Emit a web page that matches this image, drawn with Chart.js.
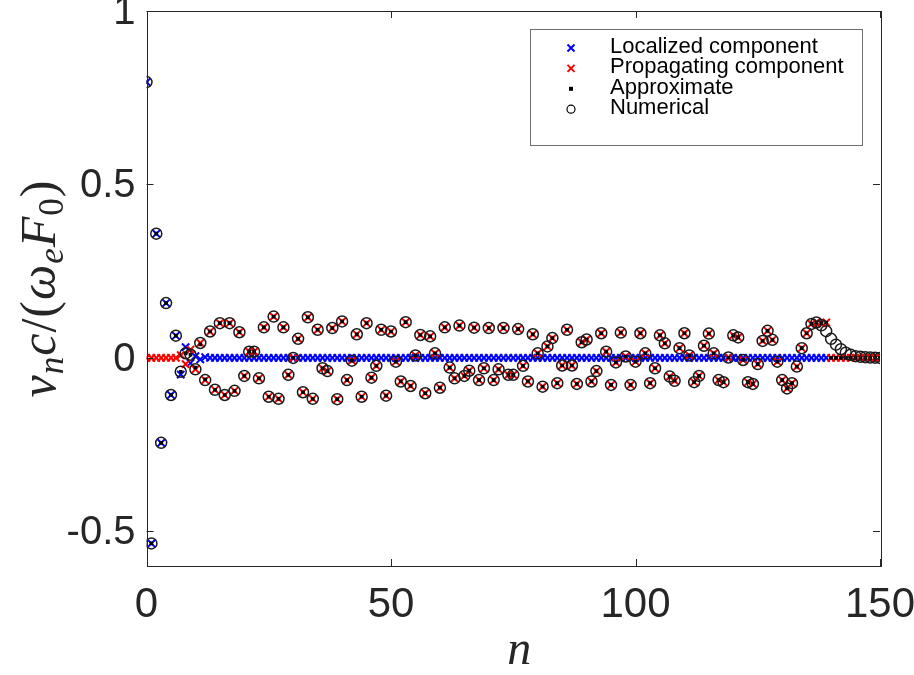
<!DOCTYPE html>
<html>
<head>
<meta charset="utf-8">
<script src="https://cdn.jsdelivr.net/npm/chart.js@4.4.1/dist/chart.umd.min.js"></script>
<style>
  html, body { margin: 0; padding: 0; background: #fff; }
  #wrap { position: relative; width: 914px; height: 675px; }
</style>
</head>
<body>
<div id="wrap"><canvas id="myChart"></canvas></div>
<script>
// values indexed by n (first entry is n = 0)
const localized = [
  0.795, -0.535, 0.358, -0.245, 0.158, -0.107, 0.064, -0.048, 0.031, -0.015,
  0.005, -0.004, 0.002, 0, 0, 0, 0, 0, 0, 0,
  0, 0, 0, 0, 0, 0, 0, 0, 0, 0,  0, 0, 0, 0, 0, 0, 0, 0, 0, 0,
  0, 0, 0, 0, 0, 0, 0, 0, 0, 0,  0, 0, 0, 0, 0, 0, 0, 0, 0, 0,
  0, 0, 0, 0, 0, 0, 0, 0, 0, 0,  0, 0, 0, 0, 0, 0, 0, 0, 0, 0,
  0, 0, 0, 0, 0, 0, 0, 0, 0, 0,  0, 0, 0, 0, 0, 0, 0, 0, 0, 0,
  0, 0, 0, 0, 0, 0, 0, 0, 0, 0,  0, 0, 0, 0, 0, 0, 0, 0, 0, 0,
  0, 0, 0, 0, 0, 0, 0, 0, 0, 0,  0, 0, 0, 0, 0, 0, 0, 0, 0, 0
];

const propagating = [
  0, 0, 0, 0, 0, 0, 0, 0.008, -0.018, 0.024,
  -0.033, 0.043, -0.064, 0.076, -0.092, 0.100, -0.107, 0.100, -0.095, 0.074,
  -0.052, 0.018, 0.018, -0.059, 0.088, -0.112, 0.119, -0.118, 0.088, -0.049,
  0.000, 0.055, -0.099, 0.117, -0.118, 0.081, -0.030, -0.038, 0.086, -0.119,
  0.105, -0.064, -0.008, 0.068, -0.112, 0.100, -0.057, -0.023, 0.081, -0.109,
  0.076, -0.011, -0.068, 0.103, -0.081, 0.007, 0.066, -0.102, 0.062, 0.013,
  -0.086, 0.088, -0.028, -0.059, 0.093, -0.052, -0.037, 0.087, -0.064, -0.030,
  0.086, -0.064, -0.033, 0.086, -0.049, -0.049, 0.083, -0.023, -0.068, 0.068,
  0.013, -0.083, 0.033, 0.057, -0.073, -0.022, 0.081, -0.022, -0.075, 0.045,
  0.053, -0.068, -0.038, 0.071, 0.018, -0.078, -0.013, 0.073, 0.004, -0.078,
  -0.011, 0.071, 0.013, -0.073, -0.030, 0.065, 0.042, -0.054, -0.066, 0.028,
  0.071, 0.007, -0.070, -0.052, 0.035, 0.070, 0.013, -0.064, -0.070, 0.001,
  0.065, 0.059, -0.006, -0.070, -0.075, -0.018, 0.049, 0.078, 0.052, -0.011,
  -0.064, -0.088, -0.073, -0.025, 0.028, 0.071, 0.098, 0.102, 0.100, 0.102,
  0, 0, 0, 0, 0, 0, 0, 0, 0, 0, 0
];

const approximate = [
  0.795, -0.535, 0.358, -0.245, 0.158, -0.107, 0.064, -0.040, 0.013, 0.009,
  -0.028, 0.039, -0.062, 0.076, -0.092, 0.100, -0.107, 0.100, -0.095, 0.074,
  -0.052, 0.018, 0.018, -0.059, 0.088, -0.112, 0.119, -0.118, 0.088, -0.049,
  0.000, 0.055, -0.099, 0.117, -0.118, 0.081, -0.030, -0.038, 0.086, -0.119,
  0.105, -0.064, -0.008, 0.068, -0.112, 0.100, -0.057, -0.023, 0.081, -0.109,
  0.076, -0.011, -0.068, 0.103, -0.081, 0.007, 0.066, -0.102, 0.062, 0.013,
  -0.086, 0.088, -0.028, -0.059, 0.093, -0.052, -0.037, 0.087, -0.064, -0.030,
  0.086, -0.064, -0.033, 0.086, -0.049, -0.049, 0.083, -0.023, -0.068, 0.068,
  0.013, -0.083, 0.033, 0.057, -0.073, -0.022, 0.081, -0.022, -0.075, 0.045,
  0.053, -0.068, -0.038, 0.071, 0.018, -0.078, -0.013, 0.073, 0.004, -0.078,
  -0.011, 0.071, 0.013, -0.073, -0.030, 0.065, 0.042, -0.054, -0.066, 0.028,
  0.071, 0.007, -0.070, -0.052, 0.035, 0.070, 0.013, -0.064, -0.070, 0.001,
  0.065, 0.059, -0.006, -0.070, -0.075, -0.018, 0.049, 0.078, 0.052, -0.011,
  -0.064, -0.088, -0.073, -0.025, 0.028, 0.071, 0.098, 0.102, 0.100, 0.102,
  0, 0, 0, 0, 0, 0, 0, 0, 0, 0, 0
];

const numerical = [
  0.795, -0.535, 0.358, -0.245, 0.158, -0.107, 0.064, -0.040, 0.013, 0.009,
  -0.033, 0.043, -0.064, 0.076, -0.092, 0.100, -0.107, 0.100, -0.095, 0.074,
  -0.052, 0.018, 0.018, -0.059, 0.088, -0.112, 0.119, -0.118, 0.088, -0.049,
  0.000, 0.055, -0.099, 0.117, -0.118, 0.081, -0.030, -0.038, 0.086, -0.119,
  0.105, -0.064, -0.008, 0.068, -0.112, 0.100, -0.057, -0.023, 0.081, -0.109,
  0.076, -0.011, -0.068, 0.103, -0.081, 0.007, 0.066, -0.102, 0.062, 0.013,
  -0.086, 0.088, -0.028, -0.059, 0.093, -0.052, -0.037, 0.087, -0.064, -0.030,
  0.086, -0.064, -0.033, 0.086, -0.049, -0.049, 0.083, -0.023, -0.068, 0.068,
  0.013, -0.083, 0.033, 0.057, -0.073, -0.022, 0.081, -0.022, -0.075, 0.045,
  0.053, -0.068, -0.038, 0.071, 0.018, -0.078, -0.013, 0.073, 0.004, -0.078,
  -0.011, 0.071, 0.013, -0.073, -0.030, 0.065, 0.042, -0.054, -0.066, 0.028,
  0.071, 0.007, -0.070, -0.052, 0.035, 0.070, 0.013, -0.064, -0.070, 0.001,
  0.065, 0.059, -0.006, -0.070, -0.075, -0.018, 0.049, 0.078, 0.052, -0.011,
  -0.064, -0.088, -0.073, -0.025, 0.028, 0.071, 0.098, 0.102, 0.094, 0.077,
  0.055, 0.038, 0.025, 0.015, 0.009, 0.005, 0.003, 0.002, 0.001, 0.0005, 0
];

const xTicks = [0, 50, 100, 150];
const yTicks = [-0.5, 0, 0.5, 1];
const legendLabels = ['Localized component', 'Propagating component', 'Approximate', 'Numerical'];
const xTitle = 'n';

const axisColor = '#262626';
const sansFont = '"Liberation Sans", Arial, sans-serif';
const serifFont = '"Liberation Serif", "DejaVu Serif", serif';

function toPoints(arr) {
    return arr.map((v, n) => ({ x: n, y: v }));
}

// box round the plot with inward ticks, like matlab
const framePlugin = {
    id: 'frame',
    afterDraw(chart) {
        const ctx = chart.ctx;
        const a = chart.chartArea;
        const xs = chart.scales.x, ys = chart.scales.y;
        ctx.save();
        ctx.strokeStyle = axisColor;
        ctx.lineWidth = 1;
        ctx.strokeRect(Math.round(a.left) + 0.5, Math.round(a.top) + 0.5,
                       Math.round(a.right - a.left), Math.round(a.bottom - a.top));
        ctx.beginPath();
        xTicks.forEach(v => {
            const px = Math.round(xs.getPixelForValue(v)) + 0.5;
            ctx.moveTo(px, a.bottom); ctx.lineTo(px, a.bottom - 7);
            ctx.moveTo(px, a.top); ctx.lineTo(px, a.top + 7);
        });
        yTicks.forEach(v => {
            const py = Math.round(ys.getPixelForValue(v)) + 0.5;
            ctx.moveTo(a.left, py); ctx.lineTo(a.left + 7, py);
            ctx.moveTo(a.right, py); ctx.lineTo(a.right - 7, py);
        });
        ctx.stroke();

        // x title
        ctx.fillStyle = axisColor;
        ctx.font = 'italic 48px ' + serifFont;
        ctx.textAlign = 'center';
        ctx.textBaseline = 'alphabetic';
        ctx.fillText(xTitle, (a.left + a.right) / 2 + 6, 664);
        ctx.restore();
    }
};

// y title v_n c/(w_e F_0) with subscripts
const yTitleParts = [
    { t: 'v', it: true }, { t: 'n', it: true, sub: true }, { t: 'c', it: true },
    { t: '/' }, { t: '(' }, { t: 'ω', it: true }, { t: 'e', it: true, sub: true },
    { t: 'F', it: true }, { t: '0', sub: true }, { t: ')' }
];
const yTitlePlugin = {
    id: 'ytitle',
    afterDraw(chart) {
        const ctx = chart.ctx;
        const a = chart.chartArea;
        const big = 50, small = 35;
        ctx.save();
        const fontOf = p => (p.it ? 'italic ' : '') + (p.sub ? small : big) + 'px ' + serifFont;
        let total = 0;
        yTitleParts.forEach(p => { ctx.font = fontOf(p); p.w = ctx.measureText(p.t).width + 1; total += p.w; });
        ctx.translate(42, (a.top + a.bottom) / 2);
        ctx.rotate(-Math.PI / 2);
        ctx.fillStyle = axisColor;
        ctx.textBaseline = 'alphabetic';
        ctx.textAlign = 'left';
        let x = -total / 2;
        yTitleParts.forEach(p => {
            ctx.font = fontOf(p);
            ctx.fillText(p.t, x, p.sub ? 21 : 13);
            x += p.w;
        });
        ctx.restore();
    }
};

// legend box in the upper right corner
const legendPlugin = {
    id: 'boxLegend',
    afterDraw(chart) {
        const ctx = chart.ctx;
        const a = chart.chartArea;
        const box = { left: a.right - 350, top: a.top + 18, w: 332, h: 116 };
        ctx.save();
        ctx.fillStyle = '#fff';
        ctx.fillRect(box.left, box.top, box.w, box.h);
        ctx.strokeStyle = '#6e6e6e';
        ctx.lineWidth = 1;
        ctx.strokeRect(box.left + 0.5, box.top + 0.5, box.w, box.h);
        const mx = box.left + 41;
        legendLabels.forEach((lab, i) => {
            const y = box.top + 19 + i * 20.4;
            ctx.beginPath();
            if (i < 2) {
                ctx.strokeStyle = i === 0 ? '#0000ff' : '#ff0000';
                ctx.lineWidth = 2;
                ctx.moveTo(mx - 3.5, y - 3.5); ctx.lineTo(mx + 3.5, y + 3.5);
                ctx.moveTo(mx - 3.5, y + 3.5); ctx.lineTo(mx + 3.5, y - 3.5);
                ctx.stroke();
            } else if (i === 2) {
                ctx.fillStyle = '#000';
                ctx.fillRect(mx - 2, y - 2, 4, 4);
            } else {
                ctx.strokeStyle = '#000';
                ctx.lineWidth = 1.2;
                ctx.arc(mx, y, 4, 0, Math.PI * 2);
                ctx.stroke();
            }
            ctx.fillStyle = '#000';
            ctx.font = '22px ' + sansFont;
            ctx.textAlign = 'left';
            ctx.textBaseline = 'middle';
            ctx.fillText(lab, box.left + 80, y - 1);
        });
        ctx.restore();
    }
};

const data = {
    datasets: [
        {
            label: legendLabels[0], data: toPoints(localized), order: 3,
            pointStyle: 'crossRot', pointRadius: 5.2, borderColor: '#0000ff',
            backgroundColor: '#0000ff', pointBorderWidth: 2, showLine: false
        },
        {
            label: legendLabels[1], data: toPoints(propagating), order: 2,
            pointStyle: 'crossRot', pointRadius: 5.2, borderColor: '#ff0000',
            backgroundColor: '#ff0000', pointBorderWidth: 2, showLine: false
        },
        {
            label: legendLabels[2], data: toPoints(approximate), order: 1,
            pointStyle: 'rect', pointRadius: 2.6, borderColor: '#000',
            backgroundColor: '#000', pointBorderWidth: 0, showLine: false
        },
        {
            label: legendLabels[3], data: toPoints(numerical), order: 0,
            pointStyle: 'circle', pointRadius: 5.5, borderColor: '#1a1a1a',
            backgroundColor: 'rgba(0,0,0,0)', pointBorderWidth: 1.5, showLine: false
        }
    ]
};

const config = {
    type: 'scatter',
    data: data,
    options: {
        responsive: true,
        maintainAspectRatio: false,
        animation: false,
        events: [],
        layout: { padding: { top: 11, right: 34, left: 0, bottom: 0 } },
        plugins: { legend: { display: false }, tooltip: { enabled: false } },
        scales: {
            x: {
                type: 'linear', min: 0, max: 150,
                afterBuildTicks: s => { s.ticks = xTicks.map(v => ({ value: v })); },
                afterFit: s => { s.height = 109; s.paddingLeft = 0; s.paddingRight = 0; },
                grid: { display: false, drawTicks: false },
                border: { display: false },
                ticks: { color: axisColor, font: { family: sansFont, size: 42 }, padding: 14, maxRotation: 0, autoSkip: false }
            },
            y: {
                type: 'linear', min: -0.6, max: 1,
                afterBuildTicks: s => { s.ticks = yTicks.map(v => ({ value: v })); },
                afterFit: s => { s.width = 146.5; s.paddingTop = 0; s.paddingBottom = 0; },
                grid: { display: false, drawTicks: false },
                border: { display: false },
                ticks: { color: axisColor, font: { family: sansFont, size: 40 }, padding: 11, autoSkip: false,
                         labelOffset: 2, callback: v => String(v) }
            }
        }
    },
    plugins: [framePlugin, yTitlePlugin, legendPlugin]
};

const myChart = new Chart(document.getElementById('myChart'), config);
</script>
</body>
</html>
